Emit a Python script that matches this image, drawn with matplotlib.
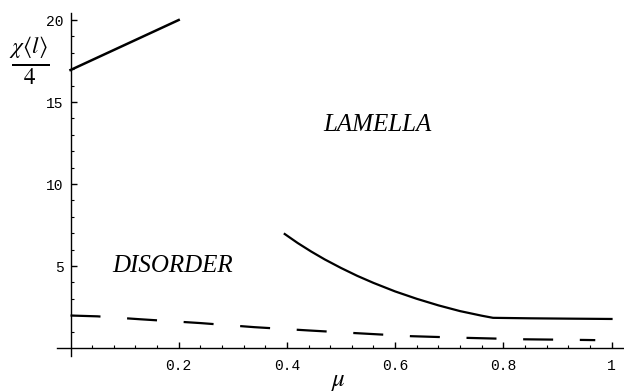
import numpy as np
import matplotlib.pyplot as plt
from matplotlib.ticker import FixedLocator

plt.rcParams['mathtext.fontset'] = 'stix'

# upper lamella boundary (low mu)
upper_mu = [0.0, 0.2]
upper_val = [16.95, 20.0]

# lamella boundary (high mu)
lam_mu = [0.396, 0.42, 0.445, 0.47, 0.50, 0.53, 0.56, 0.60, 0.64, 0.68, 0.72, 0.76, 0.781, 0.85, 0.92, 1.0]
lam_val = [6.95, 6.40, 5.88, 5.40, 4.88, 4.40, 3.97, 3.45, 3.00, 2.60, 2.25, 1.97, 1.84, 1.81, 1.79, 1.77]

# dashed curve
dash_mu = [0.0, 0.05, 0.13, 0.24, 0.34, 0.44, 0.52, 0.63, 0.73, 0.84, 0.95, 0.97]
dash_val = [1.98, 1.93, 1.75, 1.52, 1.27, 1.07, 0.92, 0.72, 0.62, 0.53, 0.49, 0.48]

fig = plt.figure(figsize=(6.24, 3.92), dpi=100)
ax = fig.add_axes([0, 0, 1, 1])

# map pixels: x=0 at px 70.5, 541 px per unit; y=0 at px 348, 16.4 px per unit
ax.set_xlim(-70.5 / 541, (624 - 70.5) / 541)
ax.set_ylim((348 - 392) / 16.4, 348 / 16.4)

ax.plot(upper_mu, upper_val, '-', color='black', lw=1.8)
ax.plot(lam_mu, lam_val, '-', color='black', lw=1.6)
ax.plot(dash_mu, dash_val, color='black', lw=1.6, dashes=(13.5, 12))

# axes through origin, mathematica style
for s in ['top', 'right']:
    ax.spines[s].set_visible(False)
ax.spines['left'].set_position(('data', 0))
ax.spines['bottom'].set_position(('data', 0))
ax.spines['left'].set_bounds(-0.5, 20.45)
ax.spines['bottom'].set_bounds(-0.025, 1.03)
ax.spines['left'].set_linewidth(1.0)
ax.spines['bottom'].set_linewidth(1.0)

ax.xaxis.set_major_locator(FixedLocator([0.2, 0.4, 0.6, 0.8, 1.0]))
ax.xaxis.set_minor_locator(FixedLocator(np.arange(0.04, 1.001, 0.04)))
ax.yaxis.set_major_locator(FixedLocator([5, 10, 15, 20]))
ax.yaxis.set_minor_locator(FixedLocator(np.arange(1, 20.5, 1)))
ax.set_xticklabels(['0.2', '0.4', '0.6', '0.8', '1'])
ax.set_yticklabels(['5', '10', '15', '20'])
ax.tick_params(which='major', direction='in', length=4, width=1, pad=8,
               labelsize=10.5, labelfontfamily='Liberation Mono')
ax.tick_params(which='minor', direction='in', length=2.5, width=0.8)
ax.tick_params(axis='y', pad=5)

ax.text(0.568, 13.6, 'LAMELLA', family='Liberation Serif', style='italic',
        fontsize=18, ha='center', va='center')
ax.text(0.188, 5.0, 'DISORDER', family='Liberation Serif', style='italic',
        fontsize=18, ha='center', va='center')

fig.text(29 / 624, 1 - 61 / 392, r'$\frac{\chi\langle l\rangle}{4}$', fontsize=24,
         ha='center', va='center')
fig.text(338 / 624, 1 - 381 / 392, r'$\mu$', fontsize=18, ha='center', va='center')

fig.savefig('out.png', dpi=100)
